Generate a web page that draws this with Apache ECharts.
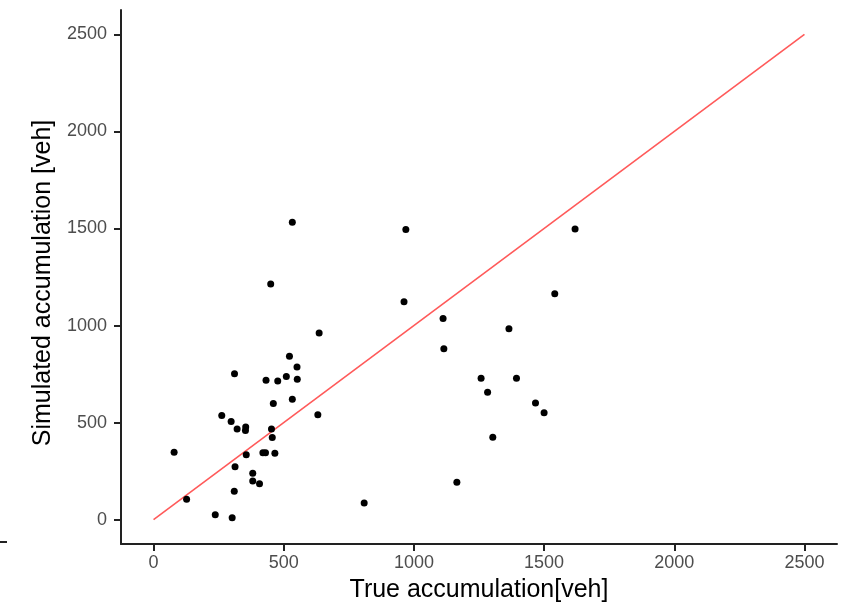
<!DOCTYPE html>
<html>
<head>
<meta charset="utf-8">
<script src="https://cdn.jsdelivr.net/npm/echarts@6/dist/echarts.min.js"></script>
<style>
  html, body { margin: 0; padding: 0; background: #ffffff; }
  #chart { width: 841px; height: 607px; }
</style>
</head>
<body>
<div id="chart"></div>
<script>
// Observed (true) vs simulated vehicle accumulation per sample
const trueAcc = [
  533, 450, 636, 522, 551, 311, 432, 477, 510, 552,
  460, 533, 631, 262, 298, 321, 354, 353, 453, 456,
  79, 356, 420, 430, 466, 313, 381, 381, 407, 310,
  127, 237, 302, 969, 1619, 1541, 962, 1112, 1365, 1115,
  1258, 1394, 1283, 1467, 1500, 1303, 1165, 809
];
const simAcc = [
  1532, 1214, 961, 842, 786, 752, 718, 714, 738, 724,
  599, 620, 541, 537, 506, 467, 477, 460, 467, 424,
  348, 335, 345, 345, 342, 273, 239, 199, 185, 147,
  105, 26, 10, 1494, 1497, 1164, 1123, 1036, 984, 881,
  728, 728, 657, 601, 551, 425, 193, 86
];
// identity line y = x
const identityEnds = [0, 2500];
// axis tick values
const tickValues = [0, 500, 1000, 1500, 2000, 2500];

const points = trueAcc.map((x, i) => [x, simAcc[i]]);
const identity = identityEnds.map(v => [v, v]);

const FONT = 'Liberation Sans, Arial, sans-serif';

const axisCommon = {
  type: 'value',
  min: -125,
  max: 2625,
  nameLocation: 'middle',
  axisLine: { show: true, onZero: false, lineStyle: { color: '#222222', width: 2 } },
  axisTick: { show: true, length: 7, customValues: tickValues, lineStyle: { color: '#222222', width: 2 } },
  axisLabel: {
    customValues: tickValues,
    formatter: v => String(v),
    color: '#4d4d4d',
    fontSize: 18,
    fontFamily: FONT
  },
  splitLine: { show: false }
};

const chart = echarts.init(document.getElementById('chart'), null, { renderer: 'canvas' });
chart.setOption({
  animation: false,
  backgroundColor: '#ffffff',
  grid: { left: 121, right: 4, top: 10, bottom: 63, containLabel: false, outerBoundsMode: 'none' },
  xAxis: Object.assign({}, axisCommon, {
    name: 'True accumulation[veh]',
    nameGap: 34,
    nameTextStyle: { color: '#000000', fontSize: 25, fontFamily: FONT },
    axisLabel: Object.assign({}, axisCommon.axisLabel, { margin: 10 })
  }),
  yAxis: Object.assign({}, axisCommon, {
    name: 'Simulated accumulation [veh]',
    nameGap: 58,
    nameTextStyle: { color: '#000000', fontSize: 25, fontFamily: FONT, padding: [0, 12, 0, 0] },
    axisLabel: Object.assign({}, axisCommon.axisLabel, { margin: 14 })
  }),
  graphic: [{
    type: 'line',
    shape: { x1: 0, y1: 542, x2: 7, y2: 542 },
    style: { stroke: '#222222', lineWidth: 2 }
  }],
  series: [
    {
      type: 'line',
      data: identity,
      symbol: 'none',
      lineStyle: { color: '#ff5a5a', width: 1.6 },
      z: 1
    },
    {
      type: 'scatter',
      data: points,
      symbol: 'circle',
      symbolSize: 7,
      itemStyle: { color: '#000000', opacity: 1 },
      z: 2
    }
  ]
});
</script>
</body>
</html>
